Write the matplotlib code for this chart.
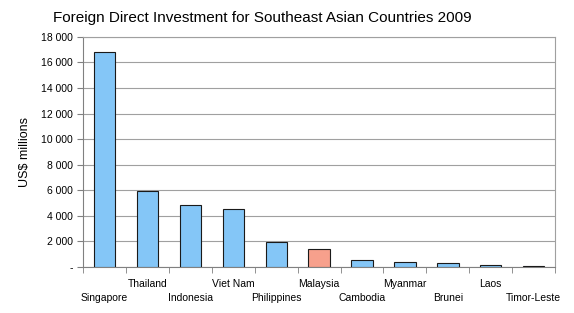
import numpy as np
from matplotlib import pyplot as plt

plt.rcParams['font.family'] = ['Liberation Sans', 'DejaVu Sans']

countries = ['Singapore', 'Thailand', 'Indonesia', 'Viet Nam', 'Philippines', 'Malaysia',
             'Cambodia', 'Myanmar', 'Brunei', 'Laos', 'Timor-Leste']
fdi = [16809, 5949, 4877, 4500, 1948, 1381, 540, 400, 330, 190, 50]
yticks = [0, 2000, 4000, 6000, 8000, 10000, 12000, 14000, 16000, 18000]
ytick_labels = ['-', '2 000', '4 000', '6 000', '8 000', '10 000', '12 000', '14 000', '16 000', '18 000']

colours = ['#84c6f7'] * len(countries)
colours[5] = '#f7a08c'  # Malaysia highlighted

fig = plt.figure(figsize=(5.74, 3.13), dpi=100)
ax = fig.add_axes([0.145, 0.147, 0.822, 0.735])

x = np.arange(len(countries))
ax.bar(x, fdi, width=0.5, color=colours, edgecolor='#1a1a1a', linewidth=0.8, zorder=3)

ax.set_xlim(-0.5, len(countries) - 0.5)
ax.set_ylim(0, 18000)
ax.set_yticks(yticks)
ax.set_yticklabels(ytick_labels, fontsize=7.5)
ax.yaxis.grid(True, color='#a0a0a0', linewidth=0.8, zorder=0)

# staggered category labels
labels = ['\n' + c if i % 2 == 0 else c for i, c in enumerate(countries)]
ax.set_xticks(x)
ax.set_xticklabels(labels, fontsize=7.5, linespacing=1.45)
ax.tick_params(axis='x', which='major', length=0, pad=9)
ax.set_xticks(np.arange(-0.5, len(countries), 1), minor=True)
ax.tick_params(axis='x', which='minor', length=4, color='#808080')
ax.tick_params(axis='y', length=4, color='#808080')

for side in ['top', 'right']:
    ax.spines[side].set_color('#a0a0a0')
for side in ['left', 'bottom']:
    ax.spines[side].set_color('#808080')

ax.set_ylabel('US$ millions', fontsize=9, labelpad=7)
fig.suptitle('Foreign Direct Investment for Southeast Asian Countries 2009', fontsize=11,
             x=0.457, y=0.965)

fig.savefig('out.png', dpi=100)
